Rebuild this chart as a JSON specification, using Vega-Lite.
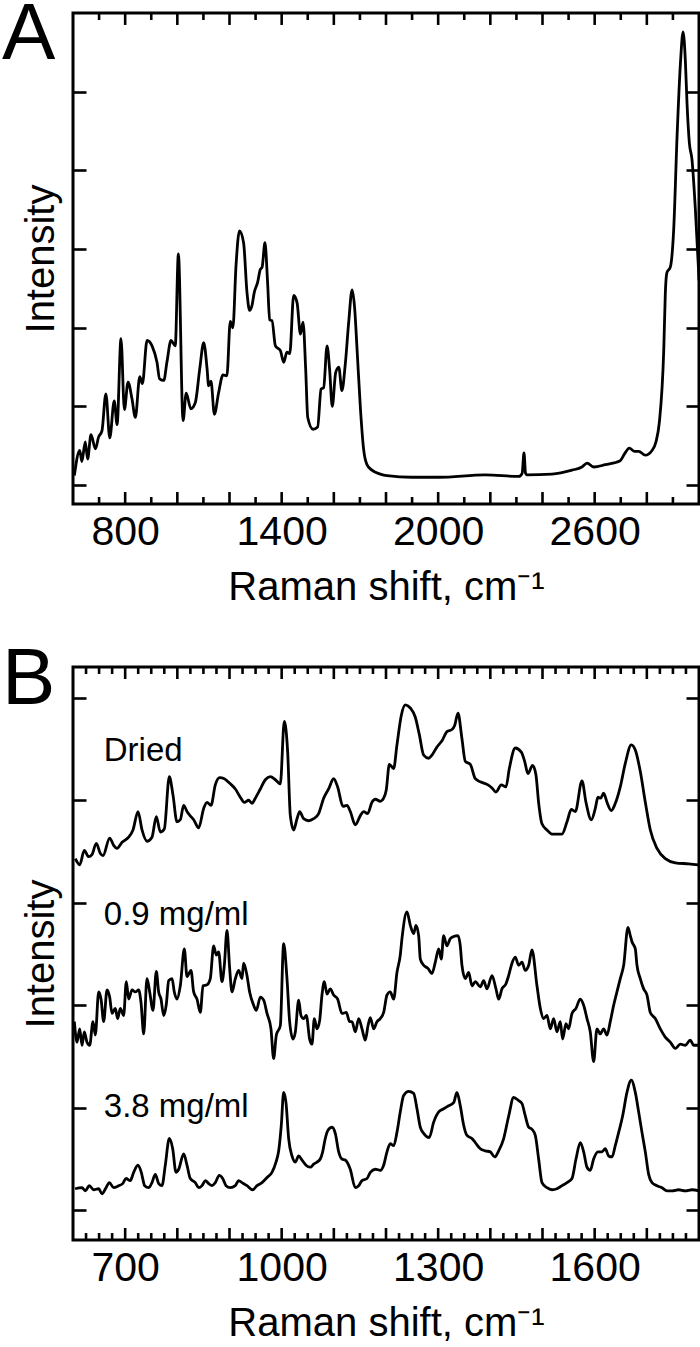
{
  "$schema": "https://vega.github.io/schema/vega-lite/v6.json",
  "padding": {"left": 0, "top": -7, "right": 0, "bottom": 0},
  "config": {
    "view": {"stroke": "black", "strokeWidth": 3},
    "font": "Liberation Sans",
    "axis": {
      "domain": false, "grid": false,
      "tickColor": "black", "tickWidth": 2.6,
      "labelFont": "Liberation Sans", "labelFontSize": 41, "labelColor": "black",
      "titleFont": "Liberation Sans", "titleFontSize": 40, "titleFontWeight": "normal", "titleColor": "black",
      "labelOverlap": false, "labelBound": false, "labelFlush": false
    },
    "title": {"font": "Liberation Sans", "fontSize": 80, "fontWeight": "normal", "anchor": "start", "frame": "group", "color": "black", "baseline": "alphabetic"}
  },
  "datasets": {
    "full": [
      {"shift":605,"intensity":0.12},{"shift":626,"intensity":0.44},{"shift":634,"intensity":0.30},{"shift":647,"intensity":0.55},{"shift":656,"intensity":0.33},{"shift":669,"intensity":0.64},{"shift":686,"intensity":0.46},{"shift":698,"intensity":0.61},{"shift":711,"intensity":0.69},{"shift":726,"intensity":1.16},{"shift":741,"intensity":0.60},{"shift":758,"intensity":1.07},{"shift":769,"intensity":0.77},{"shift":784,"intensity":1.86},{"shift":797,"intensity":0.96},{"shift":811,"intensity":1.31},{"shift":826,"intensity":1.10},{"shift":839,"intensity":0.86},{"shift":856,"intensity":1.38},{"shift":866,"intensity":1.29},{"shift":884,"intensity":1.84},{"shift":903,"intensity":1.77},{"shift":922,"intensity":1.56},{"shift":932,"intensity":1.35},{"shift":948,"intensity":1.33},{"shift":960,"intensity":1.56},{"shift":976,"intensity":1.84},{"shift":992,"intensity":1.77},{"shift":1004,"intensity":2.94},{"shift":1022,"intensity":0.82},{"shift":1034,"intensity":1.17},{"shift":1052,"intensity":0.97},{"shift":1069,"intensity":1.05},{"shift":1086,"intensity":1.48},{"shift":1101,"intensity":1.81},{"shift":1114,"intensity":1.48},{"shift":1120,"intensity":1.26},{"shift":1129,"intensity":1.32},{"shift":1142,"intensity":0.90},{"shift":1158,"intensity":1.17},{"shift":1175,"intensity":1.40},{"shift":1190,"intensity":1.39},{"shift":1203,"intensity":2.08},{"shift":1213,"intensity":2.00},{"shift":1225,"intensity":2.79},{"shift":1238,"intensity":3.23},{"shift":1254,"intensity":3.08},{"shift":1267,"intensity":2.45},{"shift":1277,"intensity":2.22},{"shift":1286,"intensity":2.28},{"shift":1295,"intensity":2.45},{"shift":1308,"intensity":2.58},{"shift":1318,"intensity":2.74},{"shift":1325,"intensity":2.77},{"shift":1336,"intensity":3.08},{"shift":1346,"intensity":2.58},{"shift":1354,"intensity":2.10},{"shift":1363,"intensity":2.09},{"shift":1376,"intensity":1.77},{"shift":1395,"intensity":1.71},{"shift":1408,"intensity":1.56},{"shift":1420,"intensity":1.69},{"shift":1431,"intensity":1.67},{"shift":1446,"intensity":2.41},{"shift":1459,"intensity":2.32},{"shift":1472,"intensity":1.92},{"shift":1482,"intensity":2.07},{"shift":1492,"intensity":1.48},{"shift":1500,"intensity":0.86},{"shift":1520,"intensity":0.71},{"shift":1538,"intensity":0.74},{"shift":1551,"intensity":1.22},{"shift":1561,"intensity":1.24},{"shift":1574,"intensity":1.77},{"shift":1584,"intensity":1.46},{"shift":1594,"intensity":1.00},{"shift":1607,"intensity":1.43},{"shift":1619,"intensity":1.50},{"shift":1631,"intensity":1.20},{"shift":1644,"intensity":1.54},{"shift":1657,"intensity":2.07},{"shift":1670,"intensity":2.48},{"shift":1680,"intensity":2.24},{"shift":1689,"intensity":1.73},{"shift":1702,"intensity":0.97},{"shift":1714,"intensity":0.46},{"shift":1727,"intensity":0.26},{"shift":1746,"intensity":0.19},{"shift":1778,"intensity":0.14},{"shift":1804,"intensity":0.12},{"shift":1900,"intensity":0.10},{"shift":2002,"intensity":0.10},{"shift":2181,"intensity":0.13},{"shift":2309,"intensity":0.11},{"shift":2322,"intensity":0.15},{"shift":2329,"intensity":0.41},{"shift":2335,"intensity":0.15},{"shift":2340,"intensity":0.13},{"shift":2436,"intensity":0.14},{"shift":2513,"intensity":0.19},{"shift":2551,"intensity":0.23},{"shift":2571,"intensity":0.28},{"shift":2596,"intensity":0.23},{"shift":2641,"intensity":0.26},{"shift":2698,"intensity":0.31},{"shift":2715,"intensity":0.40},{"shift":2733,"intensity":0.47},{"shift":2753,"intensity":0.43},{"shift":2769,"intensity":0.43},{"shift":2794,"intensity":0.38},{"shift":2820,"intensity":0.44},{"shift":2835,"intensity":0.55},{"shift":2848,"intensity":0.80},{"shift":2865,"intensity":1.73},{"shift":2871,"intensity":2.45},{"shift":2877,"intensity":2.70},{"shift":2890,"intensity":2.77},{"shift":2903,"intensity":3.25},{"shift":2916,"intensity":4.44},{"shift":2929,"intensity":5.37},{"shift":2939,"intensity":5.76},{"shift":2948,"intensity":5.37},{"shift":2954,"intensity":4.86},{"shift":2963,"intensity":4.35},{"shift":2973,"intensity":4.14},{"shift":2986,"intensity":3.51},{"shift":2998,"intensity":2.75},{"shift":3000,"intensity":2.60}
    ],
    "fingerprint": [
      {"sample":"Dried","shift":604.5,"intensity":3.43},{"sample":"Dried","shift":612.8,"intensity":3.37},{"sample":"Dried","shift":621.7,"intensity":3.51},{"sample":"Dried","shift":630,"intensity":3.45},{"sample":"Dried","shift":636.4,"intensity":3.47},{"sample":"Dried","shift":644.7,"intensity":3.58},{"sample":"Dried","shift":652.4,"intensity":3.48},{"sample":"Dried","shift":657.5,"intensity":3.46},{"sample":"Dried","shift":670.3,"intensity":3.63},{"sample":"Dried","shift":678,"intensity":3.56},{"sample":"Dried","shift":684.3,"intensity":3.53},{"sample":"Dried","shift":694,"intensity":3.59},{"sample":"Dried","shift":706.7,"intensity":3.64},{"sample":"Dried","shift":715,"intensity":3.71},{"sample":"Dried","shift":724.6,"intensity":3.89},{"sample":"Dried","shift":732.3,"intensity":3.71},{"sample":"Dried","shift":741.8,"intensity":3.60},{"sample":"Dried","shift":751.4,"intensity":3.64},{"sample":"Dried","shift":759.7,"intensity":3.84},{"sample":"Dried","shift":767.4,"intensity":3.69},{"sample":"Dried","shift":775,"intensity":3.72},{"sample":"Dried","shift":784.6,"intensity":4.23},{"sample":"Dried","shift":791.7,"intensity":4.05},{"sample":"Dried","shift":799.3,"intensity":3.79},{"sample":"Dried","shift":805.7,"intensity":3.81},{"sample":"Dried","shift":812.1,"intensity":3.95},{"sample":"Dried","shift":818.5,"intensity":3.89},{"sample":"Dried","shift":826.2,"intensity":3.84},{"sample":"Dried","shift":831.3,"intensity":3.81},{"sample":"Dried","shift":840.9,"intensity":3.73},{"sample":"Dried","shift":850.5,"intensity":3.92},{"sample":"Dried","shift":856.9,"intensity":3.98},{"sample":"Dried","shift":864.5,"intensity":3.95},{"sample":"Dried","shift":872.8,"intensity":4.15},{"sample":"Dried","shift":881.1,"intensity":4.22},{"sample":"Dried","shift":890.1,"intensity":4.21},{"sample":"Dried","shift":901.6,"intensity":4.16},{"sample":"Dried","shift":911.2,"intensity":4.11},{"sample":"Dried","shift":920.7,"intensity":4.03},{"sample":"Dried","shift":928.4,"intensity":3.98},{"sample":"Dried","shift":936.7,"intensity":4.00},{"sample":"Dried","shift":943.1,"intensity":3.97},{"sample":"Dried","shift":949.5,"intensity":4.02},{"sample":"Dried","shift":959.1,"intensity":4.11},{"sample":"Dried","shift":968.7,"intensity":4.20},{"sample":"Dried","shift":978.2,"intensity":4.23},{"sample":"Dried","shift":987.8,"intensity":4.20},{"sample":"Dried","shift":997.4,"intensity":4.16},{"sample":"Dried","shift":1005,"intensity":4.77},{"sample":"Dried","shift":1011.5,"intensity":4.47},{"sample":"Dried","shift":1016.6,"intensity":3.85},{"sample":"Dried","shift":1023,"intensity":3.71},{"sample":"Dried","shift":1029.4,"intensity":3.82},{"sample":"Dried","shift":1034.5,"intensity":3.89},{"sample":"Dried","shift":1042.1,"intensity":3.82},{"sample":"Dried","shift":1051.7,"intensity":3.80},{"sample":"Dried","shift":1061.3,"intensity":3.82},{"sample":"Dried","shift":1070.9,"intensity":3.87},{"sample":"Dried","shift":1080.5,"intensity":4.02},{"sample":"Dried","shift":1090,"intensity":4.11},{"sample":"Dried","shift":1099.6,"intensity":4.21},{"sample":"Dried","shift":1107.3,"intensity":4.13},{"sample":"Dried","shift":1117.5,"intensity":3.94},{"sample":"Dried","shift":1125.2,"intensity":3.95},{"sample":"Dried","shift":1131.6,"intensity":3.89},{"sample":"Dried","shift":1141.2,"intensity":3.76},{"sample":"Dried","shift":1150.8,"intensity":3.85},{"sample":"Dried","shift":1157.2,"intensity":3.89},{"sample":"Dried","shift":1164.8,"intensity":3.87},{"sample":"Dried","shift":1173.1,"intensity":3.98},{"sample":"Dried","shift":1179.5,"intensity":4.01},{"sample":"Dried","shift":1189.1,"intensity":3.99},{"sample":"Dried","shift":1195.5,"intensity":4.02},{"sample":"Dried","shift":1200.5,"intensity":4.10},{"sample":"Dried","shift":1206.4,"intensity":4.35},{"sample":"Dried","shift":1214.7,"intensity":4.31},{"sample":"Dried","shift":1221,"intensity":4.54},{"sample":"Dried","shift":1229.4,"intensity":4.83},{"sample":"Dried","shift":1237,"intensity":4.93},{"sample":"Dried","shift":1246.6,"intensity":4.90},{"sample":"Dried","shift":1256.2,"intensity":4.81},{"sample":"Dried","shift":1263.9,"intensity":4.64},{"sample":"Dried","shift":1272.2,"intensity":4.44},{"sample":"Dried","shift":1281.8,"intensity":4.41},{"sample":"Dried","shift":1288.1,"intensity":4.44},{"sample":"Dried","shift":1297.7,"intensity":4.52},{"sample":"Dried","shift":1307.3,"intensity":4.58},{"sample":"Dried","shift":1316.9,"intensity":4.67},{"sample":"Dried","shift":1326.5,"intensity":4.69},{"sample":"Dried","shift":1331.6,"intensity":4.73},{"sample":"Dried","shift":1338,"intensity":4.85},{"sample":"Dried","shift":1345.6,"intensity":4.60},{"sample":"Dried","shift":1352,"intensity":4.38},{"sample":"Dried","shift":1361.6,"intensity":4.35},{"sample":"Dried","shift":1371.2,"intensity":4.21},{"sample":"Dried","shift":1380.8,"intensity":4.18},{"sample":"Dried","shift":1395.5,"intensity":4.15},{"sample":"Dried","shift":1403.1,"intensity":4.12},{"sample":"Dried","shift":1410.8,"intensity":4.08},{"sample":"Dried","shift":1421,"intensity":4.15},{"sample":"Dried","shift":1430,"intensity":4.13},{"sample":"Dried","shift":1436.4,"intensity":4.31},{"sample":"Dried","shift":1447.9,"intensity":4.51},{"sample":"Dried","shift":1459.4,"intensity":4.47},{"sample":"Dried","shift":1465.8,"intensity":4.38},{"sample":"Dried","shift":1472.1,"intensity":4.26},{"sample":"Dried","shift":1481,"intensity":4.34},{"sample":"Dried","shift":1487.4,"intensity":4.25},{"sample":"Dried","shift":1492.5,"intensity":3.98},{"sample":"Dried","shift":1499,"intensity":3.77},{"sample":"Dried","shift":1508.6,"intensity":3.71},{"sample":"Dried","shift":1518.2,"intensity":3.67},{"sample":"Dried","shift":1537.3,"intensity":3.67},{"sample":"Dried","shift":1547,"intensity":3.79},{"sample":"Dried","shift":1555.2,"intensity":3.91},{"sample":"Dried","shift":1562.9,"intensity":3.89},{"sample":"Dried","shift":1575.7,"intensity":4.19},{"sample":"Dried","shift":1583.3,"intensity":3.98},{"sample":"Dried","shift":1593.5,"intensity":3.81},{"sample":"Dried","shift":1601.2,"intensity":3.92},{"sample":"Dried","shift":1606.3,"intensity":4.03},{"sample":"Dried","shift":1611.4,"intensity":4.02},{"sample":"Dried","shift":1617.2,"intensity":4.07},{"sample":"Dried","shift":1623.6,"intensity":3.98},{"sample":"Dried","shift":1631.9,"intensity":3.90},{"sample":"Dried","shift":1639.6,"intensity":3.97},{"sample":"Dried","shift":1649.1,"intensity":4.13},{"sample":"Dried","shift":1658.7,"intensity":4.36},{"sample":"Dried","shift":1670.2,"intensity":4.54},{"sample":"Dried","shift":1677.9,"intensity":4.49},{"sample":"Dried","shift":1687.5,"intensity":4.28},{"sample":"Dried","shift":1697.1,"intensity":3.98},{"sample":"Dried","shift":1706.7,"intensity":3.71},{"sample":"Dried","shift":1719.5,"intensity":3.53},{"sample":"Dried","shift":1735.4,"intensity":3.43},{"sample":"Dried","shift":1754.6,"intensity":3.39},{"sample":"Dried","shift":1780.2,"intensity":3.38},{"sample":"Dried","shift":1800,"intensity":3.37},
      {"sample":"0.9 mg/ml","shift":602.6,"intensity":1.84},{"sample":"0.9 mg/ml","shift":607.7,"intensity":1.64},{"sample":"0.9 mg/ml","shift":612.8,"intensity":1.77},{"sample":"0.9 mg/ml","shift":617.3,"intensity":1.61},{"sample":"0.9 mg/ml","shift":621.7,"intensity":1.74},{"sample":"0.9 mg/ml","shift":626.8,"intensity":1.64},{"sample":"0.9 mg/ml","shift":632,"intensity":1.61},{"sample":"0.9 mg/ml","shift":638.3,"intensity":1.84},{"sample":"0.9 mg/ml","shift":642.8,"intensity":1.71},{"sample":"0.9 mg/ml","shift":649.2,"intensity":2.13},{"sample":"0.9 mg/ml","shift":653.7,"intensity":2.06},{"sample":"0.9 mg/ml","shift":658.8,"intensity":1.84},{"sample":"0.9 mg/ml","shift":665.2,"intensity":2.15},{"sample":"0.9 mg/ml","shift":670.3,"intensity":2.08},{"sample":"0.9 mg/ml","shift":674.8,"intensity":1.92},{"sample":"0.9 mg/ml","shift":681.1,"intensity":1.97},{"sample":"0.9 mg/ml","shift":685.6,"intensity":1.87},{"sample":"0.9 mg/ml","shift":690.7,"intensity":1.97},{"sample":"0.9 mg/ml","shift":697.1,"intensity":1.90},{"sample":"0.9 mg/ml","shift":702.2,"intensity":2.23},{"sample":"0.9 mg/ml","shift":706.7,"intensity":2.06},{"sample":"0.9 mg/ml","shift":713.1,"intensity":2.15},{"sample":"0.9 mg/ml","shift":719.5,"intensity":2.13},{"sample":"0.9 mg/ml","shift":725.9,"intensity":2.15},{"sample":"0.9 mg/ml","shift":730.3,"intensity":2.03},{"sample":"0.9 mg/ml","shift":735.5,"intensity":1.72},{"sample":"0.9 mg/ml","shift":741.8,"intensity":2.26},{"sample":"0.9 mg/ml","shift":747,"intensity":2.13},{"sample":"0.9 mg/ml","shift":753.3,"intensity":1.95},{"sample":"0.9 mg/ml","shift":759.7,"intensity":2.33},{"sample":"0.9 mg/ml","shift":764.2,"intensity":2.13},{"sample":"0.9 mg/ml","shift":768.7,"intensity":2.06},{"sample":"0.9 mg/ml","shift":773.8,"intensity":1.90},{"sample":"0.9 mg/ml","shift":778.9,"intensity":2.01},{"sample":"0.9 mg/ml","shift":783.4,"intensity":2.24},{"sample":"0.9 mg/ml","shift":789.8,"intensity":2.26},{"sample":"0.9 mg/ml","shift":794.2,"intensity":2.13},{"sample":"0.9 mg/ml","shift":799.3,"intensity":2.06},{"sample":"0.9 mg/ml","shift":805.7,"intensity":2.19},{"sample":"0.9 mg/ml","shift":813.4,"intensity":2.55},{"sample":"0.9 mg/ml","shift":818.5,"intensity":2.28},{"sample":"0.9 mg/ml","shift":826.2,"intensity":2.34},{"sample":"0.9 mg/ml","shift":831.3,"intensity":2.13},{"sample":"0.9 mg/ml","shift":837.7,"intensity":2.06},{"sample":"0.9 mg/ml","shift":844.1,"intensity":1.93},{"sample":"0.9 mg/ml","shift":849.2,"intensity":2.19},{"sample":"0.9 mg/ml","shift":856.9,"intensity":2.20},{"sample":"0.9 mg/ml","shift":863.2,"intensity":2.26},{"sample":"0.9 mg/ml","shift":869.6,"intensity":2.58},{"sample":"0.9 mg/ml","shift":874.7,"intensity":2.49},{"sample":"0.9 mg/ml","shift":879.2,"intensity":2.52},{"sample":"0.9 mg/ml","shift":885.6,"intensity":2.23},{"sample":"0.9 mg/ml","shift":890.1,"intensity":2.39},{"sample":"0.9 mg/ml","shift":895.2,"intensity":2.73},{"sample":"0.9 mg/ml","shift":900.3,"intensity":2.36},{"sample":"0.9 mg/ml","shift":904.8,"intensity":2.13},{"sample":"0.9 mg/ml","shift":911.2,"intensity":2.26},{"sample":"0.9 mg/ml","shift":917.6,"intensity":2.34},{"sample":"0.9 mg/ml","shift":923.9,"intensity":2.26},{"sample":"0.9 mg/ml","shift":927.1,"intensity":2.41},{"sample":"0.9 mg/ml","shift":933.5,"intensity":2.29},{"sample":"0.9 mg/ml","shift":938.6,"intensity":2.13},{"sample":"0.9 mg/ml","shift":946.3,"intensity":2.00},{"sample":"0.9 mg/ml","shift":951.4,"intensity":1.95},{"sample":"0.9 mg/ml","shift":959.1,"intensity":2.08},{"sample":"0.9 mg/ml","shift":965.5,"intensity":2.05},{"sample":"0.9 mg/ml","shift":971.9,"intensity":1.92},{"sample":"0.9 mg/ml","shift":979.5,"intensity":1.77},{"sample":"0.9 mg/ml","shift":984.6,"intensity":1.48},{"sample":"0.9 mg/ml","shift":989.8,"intensity":1.71},{"sample":"0.9 mg/ml","shift":997.4,"intensity":1.80},{"sample":"0.9 mg/ml","shift":1003.8,"intensity":2.60},{"sample":"0.9 mg/ml","shift":1010.2,"intensity":2.26},{"sample":"0.9 mg/ml","shift":1015.3,"intensity":1.84},{"sample":"0.9 mg/ml","shift":1021.7,"intensity":1.67},{"sample":"0.9 mg/ml","shift":1026.2,"intensity":1.74},{"sample":"0.9 mg/ml","shift":1032.6,"intensity":2.05},{"sample":"0.9 mg/ml","shift":1037,"intensity":1.90},{"sample":"0.9 mg/ml","shift":1042.1,"intensity":1.87},{"sample":"0.9 mg/ml","shift":1047.3,"intensity":1.90},{"sample":"0.9 mg/ml","shift":1053.6,"intensity":1.67},{"sample":"0.9 mg/ml","shift":1058.1,"intensity":1.62},{"sample":"0.9 mg/ml","shift":1062.6,"intensity":1.87},{"sample":"0.9 mg/ml","shift":1067.7,"intensity":1.77},{"sample":"0.9 mg/ml","shift":1072.8,"intensity":1.85},{"sample":"0.9 mg/ml","shift":1077.3,"intensity":2.10},{"sample":"0.9 mg/ml","shift":1081.7,"intensity":2.23},{"sample":"0.9 mg/ml","shift":1086.9,"intensity":2.11},{"sample":"0.9 mg/ml","shift":1093.3,"intensity":2.16},{"sample":"0.9 mg/ml","shift":1099.6,"intensity":2.10},{"sample":"0.9 mg/ml","shift":1107.3,"intensity":2.06},{"sample":"0.9 mg/ml","shift":1115.6,"intensity":1.92},{"sample":"0.9 mg/ml","shift":1123.9,"intensity":1.93},{"sample":"0.9 mg/ml","shift":1130.3,"intensity":1.84},{"sample":"0.9 mg/ml","shift":1134.8,"intensity":1.84},{"sample":"0.9 mg/ml","shift":1141.2,"intensity":1.74},{"sample":"0.9 mg/ml","shift":1147.6,"intensity":1.87},{"sample":"0.9 mg/ml","shift":1154,"intensity":1.77},{"sample":"0.9 mg/ml","shift":1160.3,"intensity":1.66},{"sample":"0.9 mg/ml","shift":1165.5,"intensity":1.80},{"sample":"0.9 mg/ml","shift":1169.9,"intensity":1.88},{"sample":"0.9 mg/ml","shift":1176.4,"intensity":1.77},{"sample":"0.9 mg/ml","shift":1182.7,"intensity":1.84},{"sample":"0.9 mg/ml","shift":1189,"intensity":1.87},{"sample":"0.9 mg/ml","shift":1195.5,"intensity":1.93},{"sample":"0.9 mg/ml","shift":1201.9,"intensity":2.10},{"sample":"0.9 mg/ml","shift":1208.2,"intensity":2.13},{"sample":"0.9 mg/ml","shift":1214.7,"intensity":2.06},{"sample":"0.9 mg/ml","shift":1221,"intensity":2.32},{"sample":"0.9 mg/ml","shift":1227.4,"intensity":2.49},{"sample":"0.9 mg/ml","shift":1230.6,"intensity":2.65},{"sample":"0.9 mg/ml","shift":1240.2,"intensity":2.91},{"sample":"0.9 mg/ml","shift":1246.6,"intensity":2.78},{"sample":"0.9 mg/ml","shift":1253,"intensity":2.70},{"sample":"0.9 mg/ml","shift":1257.5,"intensity":2.78},{"sample":"0.9 mg/ml","shift":1262.6,"intensity":2.68},{"sample":"0.9 mg/ml","shift":1265.8,"intensity":2.45},{"sample":"0.9 mg/ml","shift":1272.2,"intensity":2.39},{"sample":"0.9 mg/ml","shift":1280.5,"intensity":2.36},{"sample":"0.9 mg/ml","shift":1288.1,"intensity":2.31},{"sample":"0.9 mg/ml","shift":1294.5,"intensity":2.42},{"sample":"0.9 mg/ml","shift":1301,"intensity":2.55},{"sample":"0.9 mg/ml","shift":1306,"intensity":2.45},{"sample":"0.9 mg/ml","shift":1310.5,"intensity":2.68},{"sample":"0.9 mg/ml","shift":1316.7,"intensity":2.58},{"sample":"0.9 mg/ml","shift":1323.3,"intensity":2.65},{"sample":"0.9 mg/ml","shift":1329.7,"intensity":2.67},{"sample":"0.9 mg/ml","shift":1338,"intensity":2.68},{"sample":"0.9 mg/ml","shift":1342.4,"intensity":2.58},{"sample":"0.9 mg/ml","shift":1345.6,"intensity":2.39},{"sample":"0.9 mg/ml","shift":1352,"intensity":2.26},{"sample":"0.9 mg/ml","shift":1358.5,"intensity":2.32},{"sample":"0.9 mg/ml","shift":1364.8,"intensity":2.19},{"sample":"0.9 mg/ml","shift":1371.2,"intensity":2.23},{"sample":"0.9 mg/ml","shift":1380.8,"intensity":2.18},{"sample":"0.9 mg/ml","shift":1387.2,"intensity":2.24},{"sample":"0.9 mg/ml","shift":1393.6,"intensity":2.16},{"sample":"0.9 mg/ml","shift":1403.2,"intensity":2.29},{"sample":"0.9 mg/ml","shift":1410.8,"intensity":2.16},{"sample":"0.9 mg/ml","shift":1416,"intensity":2.06},{"sample":"0.9 mg/ml","shift":1422.3,"intensity":2.16},{"sample":"0.9 mg/ml","shift":1430,"intensity":2.21},{"sample":"0.9 mg/ml","shift":1435.1,"intensity":2.29},{"sample":"0.9 mg/ml","shift":1441.5,"intensity":2.41},{"sample":"0.9 mg/ml","shift":1447.8,"intensity":2.47},{"sample":"0.9 mg/ml","shift":1454.3,"intensity":2.39},{"sample":"0.9 mg/ml","shift":1460.7,"intensity":2.42},{"sample":"0.9 mg/ml","shift":1467,"intensity":2.34},{"sample":"0.9 mg/ml","shift":1473.5,"intensity":2.39},{"sample":"0.9 mg/ml","shift":1479.8,"intensity":2.54},{"sample":"0.9 mg/ml","shift":1489.4,"intensity":2.19},{"sample":"0.9 mg/ml","shift":1495.8,"intensity":1.97},{"sample":"0.9 mg/ml","shift":1502.2,"intensity":1.87},{"sample":"0.9 mg/ml","shift":1508.6,"intensity":1.90},{"sample":"0.9 mg/ml","shift":1515,"intensity":1.77},{"sample":"0.9 mg/ml","shift":1521.4,"intensity":1.87},{"sample":"0.9 mg/ml","shift":1527.7,"intensity":1.74},{"sample":"0.9 mg/ml","shift":1534.1,"intensity":1.84},{"sample":"0.9 mg/ml","shift":1538.6,"intensity":1.67},{"sample":"0.9 mg/ml","shift":1545,"intensity":1.82},{"sample":"0.9 mg/ml","shift":1550.1,"intensity":1.77},{"sample":"0.9 mg/ml","shift":1556.5,"intensity":1.92},{"sample":"0.9 mg/ml","shift":1564.2,"intensity":1.97},{"sample":"0.9 mg/ml","shift":1572.4,"intensity":2.06},{"sample":"0.9 mg/ml","shift":1578.9,"intensity":2.00},{"sample":"0.9 mg/ml","shift":1585.3,"intensity":1.87},{"sample":"0.9 mg/ml","shift":1591.6,"intensity":1.74},{"sample":"0.9 mg/ml","shift":1598,"intensity":1.45},{"sample":"0.9 mg/ml","shift":1604.4,"intensity":1.77},{"sample":"0.9 mg/ml","shift":1610.7,"intensity":1.72},{"sample":"0.9 mg/ml","shift":1617.2,"intensity":1.77},{"sample":"0.9 mg/ml","shift":1623.6,"intensity":1.71},{"sample":"0.9 mg/ml","shift":1629.9,"intensity":1.84},{"sample":"0.9 mg/ml","shift":1636.4,"intensity":2.00},{"sample":"0.9 mg/ml","shift":1642.7,"intensity":2.13},{"sample":"0.9 mg/ml","shift":1649.1,"intensity":2.26},{"sample":"0.9 mg/ml","shift":1655.6,"intensity":2.39},{"sample":"0.9 mg/ml","shift":1663.8,"intensity":2.76},{"sample":"0.9 mg/ml","shift":1668.3,"intensity":2.68},{"sample":"0.9 mg/ml","shift":1671.5,"intensity":2.62},{"sample":"0.9 mg/ml","shift":1677.9,"intensity":2.55},{"sample":"0.9 mg/ml","shift":1681.1,"intensity":2.39},{"sample":"0.9 mg/ml","shift":1687.4,"intensity":2.26},{"sample":"0.9 mg/ml","shift":1693.9,"intensity":2.16},{"sample":"0.9 mg/ml","shift":1700.3,"intensity":2.10},{"sample":"0.9 mg/ml","shift":1706.6,"intensity":1.93},{"sample":"0.9 mg/ml","shift":1716.2,"intensity":1.87},{"sample":"0.9 mg/ml","shift":1725.8,"intensity":1.77},{"sample":"0.9 mg/ml","shift":1735.3,"intensity":1.69},{"sample":"0.9 mg/ml","shift":1744.9,"intensity":1.64},{"sample":"0.9 mg/ml","shift":1754.5,"intensity":1.58},{"sample":"0.9 mg/ml","shift":1764.1,"intensity":1.62},{"sample":"0.9 mg/ml","shift":1773.7,"intensity":1.61},{"sample":"0.9 mg/ml","shift":1783.2,"intensity":1.66},{"sample":"0.9 mg/ml","shift":1789.7,"intensity":1.61},{"sample":"0.9 mg/ml","shift":1800,"intensity":1.61},
      {"sample":"3.8 mg/ml","shift":604,"intensity":0.21},{"sample":"3.8 mg/ml","shift":617.3,"intensity":0.22},{"sample":"3.8 mg/ml","shift":623.6,"intensity":0.19},{"sample":"3.8 mg/ml","shift":631.3,"intensity":0.24},{"sample":"3.8 mg/ml","shift":639.6,"intensity":0.20},{"sample":"3.8 mg/ml","shift":649.2,"intensity":0.21},{"sample":"3.8 mg/ml","shift":655.6,"intensity":0.16},{"sample":"3.8 mg/ml","shift":663.3,"intensity":0.22},{"sample":"3.8 mg/ml","shift":669.6,"intensity":0.27},{"sample":"3.8 mg/ml","shift":678,"intensity":0.22},{"sample":"3.8 mg/ml","shift":687.6,"intensity":0.24},{"sample":"3.8 mg/ml","shift":695.3,"intensity":0.26},{"sample":"3.8 mg/ml","shift":701.6,"intensity":0.31},{"sample":"3.8 mg/ml","shift":709.8,"intensity":0.29},{"sample":"3.8 mg/ml","shift":716.3,"intensity":0.37},{"sample":"3.8 mg/ml","shift":724.6,"intensity":0.44},{"sample":"3.8 mg/ml","shift":730.9,"intensity":0.37},{"sample":"3.8 mg/ml","shift":737.4,"intensity":0.24},{"sample":"3.8 mg/ml","shift":745.1,"intensity":0.22},{"sample":"3.8 mg/ml","shift":751.4,"intensity":0.27},{"sample":"3.8 mg/ml","shift":757.8,"intensity":0.35},{"sample":"3.8 mg/ml","shift":764.3,"intensity":0.26},{"sample":"3.8 mg/ml","shift":770.6,"intensity":0.24},{"sample":"3.8 mg/ml","shift":776.9,"intensity":0.44},{"sample":"3.8 mg/ml","shift":784.6,"intensity":0.70},{"sample":"3.8 mg/ml","shift":791.1,"intensity":0.60},{"sample":"3.8 mg/ml","shift":797.4,"intensity":0.37},{"sample":"3.8 mg/ml","shift":802.6,"intensity":0.40},{"sample":"3.8 mg/ml","shift":812.2,"intensity":0.55},{"sample":"3.8 mg/ml","shift":818.5,"intensity":0.44},{"sample":"3.8 mg/ml","shift":824.8,"intensity":0.31},{"sample":"3.8 mg/ml","shift":834.4,"intensity":0.27},{"sample":"3.8 mg/ml","shift":841,"intensity":0.22},{"sample":"3.8 mg/ml","shift":847.3,"intensity":0.24},{"sample":"3.8 mg/ml","shift":853.6,"intensity":0.29},{"sample":"3.8 mg/ml","shift":860.1,"intensity":0.26},{"sample":"3.8 mg/ml","shift":866.4,"intensity":0.24},{"sample":"3.8 mg/ml","shift":872.8,"intensity":0.27},{"sample":"3.8 mg/ml","shift":880.4,"intensity":0.34},{"sample":"3.8 mg/ml","shift":886.9,"intensity":0.31},{"sample":"3.8 mg/ml","shift":893.3,"intensity":0.24},{"sample":"3.8 mg/ml","shift":901.5,"intensity":0.22},{"sample":"3.8 mg/ml","shift":911.1,"intensity":0.24},{"sample":"3.8 mg/ml","shift":917.6,"intensity":0.29},{"sample":"3.8 mg/ml","shift":923.9,"intensity":0.27},{"sample":"3.8 mg/ml","shift":933.5,"intensity":0.24},{"sample":"3.8 mg/ml","shift":944.4,"intensity":0.20},{"sample":"3.8 mg/ml","shift":952.7,"intensity":0.24},{"sample":"3.8 mg/ml","shift":962.3,"intensity":0.27},{"sample":"3.8 mg/ml","shift":971.9,"intensity":0.32},{"sample":"3.8 mg/ml","shift":981.4,"intensity":0.37},{"sample":"3.8 mg/ml","shift":989.1,"intensity":0.47},{"sample":"3.8 mg/ml","shift":994.3,"intensity":0.58},{"sample":"3.8 mg/ml","shift":999.3,"intensity":0.83},{"sample":"3.8 mg/ml","shift":1003.8,"intensity":1.15},{"sample":"3.8 mg/ml","shift":1008.3,"intensity":1.05},{"sample":"3.8 mg/ml","shift":1013.4,"intensity":0.70},{"sample":"3.8 mg/ml","shift":1019.8,"intensity":0.53},{"sample":"3.8 mg/ml","shift":1026.1,"intensity":0.47},{"sample":"3.8 mg/ml","shift":1032.6,"intensity":0.53},{"sample":"3.8 mg/ml","shift":1039,"intensity":0.49},{"sample":"3.8 mg/ml","shift":1046.6,"intensity":0.44},{"sample":"3.8 mg/ml","shift":1054.9,"intensity":0.42},{"sample":"3.8 mg/ml","shift":1061.4,"intensity":0.45},{"sample":"3.8 mg/ml","shift":1067.7,"intensity":0.47},{"sample":"3.8 mg/ml","shift":1074,"intensity":0.50},{"sample":"3.8 mg/ml","shift":1078.6,"intensity":0.57},{"sample":"3.8 mg/ml","shift":1083.6,"intensity":0.70},{"sample":"3.8 mg/ml","shift":1088.8,"intensity":0.78},{"sample":"3.8 mg/ml","shift":1096.5,"intensity":0.81},{"sample":"3.8 mg/ml","shift":1102.8,"intensity":0.75},{"sample":"3.8 mg/ml","shift":1109.3,"intensity":0.57},{"sample":"3.8 mg/ml","shift":1115.6,"intensity":0.50},{"sample":"3.8 mg/ml","shift":1122,"intensity":0.49},{"sample":"3.8 mg/ml","shift":1131.5,"intensity":0.40},{"sample":"3.8 mg/ml","shift":1141.2,"intensity":0.22},{"sample":"3.8 mg/ml","shift":1147.6,"intensity":0.24},{"sample":"3.8 mg/ml","shift":1154,"intensity":0.29},{"sample":"3.8 mg/ml","shift":1163.6,"intensity":0.31},{"sample":"3.8 mg/ml","shift":1169.9,"intensity":0.37},{"sample":"3.8 mg/ml","shift":1179.5,"intensity":0.40},{"sample":"3.8 mg/ml","shift":1189.1,"intensity":0.39},{"sample":"3.8 mg/ml","shift":1195.5,"intensity":0.44},{"sample":"3.8 mg/ml","shift":1201.9,"intensity":0.57},{"sample":"3.8 mg/ml","shift":1208.2,"intensity":0.65},{"sample":"3.8 mg/ml","shift":1214.7,"intensity":0.63},{"sample":"3.8 mg/ml","shift":1221,"intensity":0.76},{"sample":"3.8 mg/ml","shift":1227.4,"intensity":0.96},{"sample":"3.8 mg/ml","shift":1233.8,"intensity":1.12},{"sample":"3.8 mg/ml","shift":1243.4,"intensity":1.16},{"sample":"3.8 mg/ml","shift":1253,"intensity":1.14},{"sample":"3.8 mg/ml","shift":1259.4,"intensity":0.99},{"sample":"3.8 mg/ml","shift":1265.7,"intensity":0.81},{"sample":"3.8 mg/ml","shift":1272.2,"intensity":0.75},{"sample":"3.8 mg/ml","shift":1283,"intensity":0.71},{"sample":"3.8 mg/ml","shift":1291.4,"intensity":0.86},{"sample":"3.8 mg/ml","shift":1301,"intensity":0.96},{"sample":"3.8 mg/ml","shift":1310.5,"intensity":0.99},{"sample":"3.8 mg/ml","shift":1320.1,"intensity":1.02},{"sample":"3.8 mg/ml","shift":1329.7,"intensity":1.05},{"sample":"3.8 mg/ml","shift":1336,"intensity":1.15},{"sample":"3.8 mg/ml","shift":1342.4,"intensity":1.02},{"sample":"3.8 mg/ml","shift":1348.9,"intensity":0.83},{"sample":"3.8 mg/ml","shift":1355.2,"intensity":0.73},{"sample":"3.8 mg/ml","shift":1364.8,"intensity":0.70},{"sample":"3.8 mg/ml","shift":1371.2,"intensity":0.66},{"sample":"3.8 mg/ml","shift":1380.8,"intensity":0.60},{"sample":"3.8 mg/ml","shift":1390.3,"intensity":0.58},{"sample":"3.8 mg/ml","shift":1399.9,"intensity":0.57},{"sample":"3.8 mg/ml","shift":1408.3,"intensity":0.52},{"sample":"3.8 mg/ml","shift":1416,"intensity":0.58},{"sample":"3.8 mg/ml","shift":1425.6,"intensity":0.70},{"sample":"3.8 mg/ml","shift":1435.2,"intensity":0.92},{"sample":"3.8 mg/ml","shift":1444.7,"intensity":1.10},{"sample":"3.8 mg/ml","shift":1454.3,"intensity":1.07},{"sample":"3.8 mg/ml","shift":1460.7,"intensity":1.04},{"sample":"3.8 mg/ml","shift":1467,"intensity":0.92},{"sample":"3.8 mg/ml","shift":1473.5,"intensity":0.81},{"sample":"3.8 mg/ml","shift":1479.8,"intensity":0.79},{"sample":"3.8 mg/ml","shift":1486.2,"intensity":0.73},{"sample":"3.8 mg/ml","shift":1492.6,"intensity":0.50},{"sample":"3.8 mg/ml","shift":1499,"intensity":0.27},{"sample":"3.8 mg/ml","shift":1508.6,"intensity":0.22},{"sample":"3.8 mg/ml","shift":1518.2,"intensity":0.20},{"sample":"3.8 mg/ml","shift":1527.7,"intensity":0.21},{"sample":"3.8 mg/ml","shift":1537.3,"intensity":0.24},{"sample":"3.8 mg/ml","shift":1546.9,"intensity":0.27},{"sample":"3.8 mg/ml","shift":1556.5,"intensity":0.31},{"sample":"3.8 mg/ml","shift":1564.2,"intensity":0.50},{"sample":"3.8 mg/ml","shift":1572.4,"intensity":0.66},{"sample":"3.8 mg/ml","shift":1578.9,"intensity":0.57},{"sample":"3.8 mg/ml","shift":1585.3,"intensity":0.42},{"sample":"3.8 mg/ml","shift":1591.6,"intensity":0.39},{"sample":"3.8 mg/ml","shift":1598,"intensity":0.50},{"sample":"3.8 mg/ml","shift":1606.3,"intensity":0.57},{"sample":"3.8 mg/ml","shift":1614,"intensity":0.57},{"sample":"3.8 mg/ml","shift":1620.3,"intensity":0.60},{"sample":"3.8 mg/ml","shift":1626.8,"intensity":0.53},{"sample":"3.8 mg/ml","shift":1633.2,"intensity":0.52},{"sample":"3.8 mg/ml","shift":1639.5,"intensity":0.63},{"sample":"3.8 mg/ml","shift":1646,"intensity":0.76},{"sample":"3.8 mg/ml","shift":1653.6,"intensity":0.92},{"sample":"3.8 mg/ml","shift":1661.9,"intensity":1.15},{"sample":"3.8 mg/ml","shift":1670.2,"intensity":1.27},{"sample":"3.8 mg/ml","shift":1677.9,"intensity":1.15},{"sample":"3.8 mg/ml","shift":1684.3,"intensity":0.96},{"sample":"3.8 mg/ml","shift":1690.7,"intensity":0.76},{"sample":"3.8 mg/ml","shift":1697.1,"intensity":0.57},{"sample":"3.8 mg/ml","shift":1703.5,"intensity":0.35},{"sample":"3.8 mg/ml","shift":1709.9,"intensity":0.27},{"sample":"3.8 mg/ml","shift":1719.4,"intensity":0.24},{"sample":"3.8 mg/ml","shift":1729,"intensity":0.22},{"sample":"3.8 mg/ml","shift":1738.6,"intensity":0.19},{"sample":"3.8 mg/ml","shift":1748.2,"intensity":0.19},{"sample":"3.8 mg/ml","shift":1761,"intensity":0.20},{"sample":"3.8 mg/ml","shift":1773.7,"intensity":0.19},{"sample":"3.8 mg/ml","shift":1786.6,"intensity":0.20},{"sample":"3.8 mg/ml","shift":1800,"intensity":0.19}
    ],
    "sampleLabels": [
      {"shift": 659, "intensity": 4.385, "label": "Dried"},
      {"shift": 659, "intensity": 2.786, "label": "0.9 mg/ml"},
      {"shift": 659, "intensity": 0.908, "label": "3.8 mg/ml"}
    ],
    "majorTicksA": [{"shift":800},{"shift":1000},{"shift":1200},{"shift":1400},{"shift":1600},{"shift":1800},{"shift":2000},{"shift":2200},{"shift":2400},{"shift":2600},{"shift":2800}],
    "minorTicksA": [{"shift":700},{"shift":900},{"shift":1100},{"shift":1300},{"shift":1500},{"shift":1700},{"shift":1900},{"shift":2100},{"shift":2300},{"shift":2500},{"shift":2700},{"shift":2900}],
    "majorTicksB": [{"shift":700},{"shift":800},{"shift":900},{"shift":1000},{"shift":1100},{"shift":1200},{"shift":1300},{"shift":1400},{"shift":1500},{"shift":1600},{"shift":1700}],
    "minorTicksB": [{"shift":625},{"shift":650},{"shift":675},{"shift":725},{"shift":750},{"shift":775},{"shift":825},{"shift":850},{"shift":875},{"shift":925},{"shift":950},{"shift":975},{"shift":1025},{"shift":1050},{"shift":1075},{"shift":1125},{"shift":1150},{"shift":1175},{"shift":1225},{"shift":1250},{"shift":1275},{"shift":1325},{"shift":1350},{"shift":1375},{"shift":1425},{"shift":1450},{"shift":1475},{"shift":1525},{"shift":1550},{"shift":1575},{"shift":1625},{"shift":1650},{"shift":1675},{"shift":1725},{"shift":1750},{"shift":1775}]
  },
  "spacing": 29,
  "vconcat": [
    {
      "width": 626, "height": 491,
      "title": {"text": "A", "dx": -71, "offset": -64},
      "layer": [
        {
          "data": {"name": "full"},
          "mark": {"type": "line", "color": "black", "strokeWidth": 2.8, "interpolate": "monotone", "clip": true},
          "encoding": {
            "x": {"field": "shift", "type": "quantitative", "scale": {"domain": [600, 3000], "nice": false, "zero": false},
              "axis": {"orient": "bottom", "values": [800,1400,2000,2600], "ticks": false, "tickSize": 0,
                "format": "d", "labelPadding": 8, "title": "Raman shift, cm⁻¹", "titlePadding": 15}},
            "y": {"field": "intensity", "type": "quantitative", "scale": {"domain": [-0.24, 6.0], "nice": false, "zero": false},
              "axis": {"orient": "left", "values": [0,1,2,3,4,5], "tickSize": -13, "labels": false, "title": "Intensity", "titlePadding": 18, "titleBaseline": "alphabetic"}}
          }
        },
        {
          "data": {"name": "full"},
          "mark": {"type": "line", "opacity": 0},
          "encoding": {
            "x": {"field": "shift", "type": "quantitative", "axis": null},
            "y": {"field": "intensity", "type": "quantitative",
              "axis": {"orient": "right", "values": [0,1,2,3,4,5], "tickSize": -13, "labels": false, "title": null}}
          }
        },
        {
          "data": {"name": "majorTicksA"},
          "mark": {"type": "rule", "color": "black", "strokeWidth": 2.6},
          "encoding": {"x": {"field": "shift", "type": "quantitative", "axis": null}, "y": {"datum": -0.24, "type": "quantitative", "axis": null}, "y2": {"datum": -0.088}}
        },
        {
          "data": {"name": "majorTicksA"},
          "mark": {"type": "rule", "color": "black", "strokeWidth": 2.6},
          "encoding": {"x": {"field": "shift", "type": "quantitative", "axis": null}, "y": {"datum": 6.0, "type": "quantitative", "axis": null}, "y2": {"datum": 5.848}}
        },
        {
          "data": {"name": "minorTicksA"},
          "mark": {"type": "rule", "color": "black", "strokeWidth": 2.6},
          "encoding": {"x": {"field": "shift", "type": "quantitative", "axis": null}, "y": {"datum": -0.24, "type": "quantitative", "axis": null}, "y2": {"datum": -0.151}}
        },
        {
          "data": {"name": "minorTicksA"},
          "mark": {"type": "rule", "color": "black", "strokeWidth": 2.6},
          "encoding": {"x": {"field": "shift", "type": "quantitative", "axis": null}, "y": {"datum": 6.0, "type": "quantitative", "axis": null}, "y2": {"datum": 5.911}}
        }
      ],
      "resolve": {"axis": {"x": "independent", "y": "independent"}}
    },
    {
      "width": 626, "height": 573,
      "title": {"text": "B", "dx": -71, "offset": -55},
      "layer": [
        {
          "data": {"name": "fingerprint"},
          "mark": {"type": "line", "color": "black", "strokeWidth": 2.8, "interpolate": "monotone", "clip": true},
          "encoding": {
            "detail": {"field": "sample"},
            "x": {"field": "shift", "type": "quantitative", "scale": {"domain": [600, 1800], "nice": false, "zero": false},
              "axis": {"orient": "bottom", "values": [700,1000,1300,1600], "ticks": false, "tickSize": 0,
                "format": "d", "labelPadding": 8, "title": "Raman shift, cm⁻¹", "titlePadding": 15}},
            "y": {"field": "intensity", "type": "quantitative", "scale": {"domain": [-0.29, 5.3], "nice": false, "zero": false},
              "axis": {"orient": "left", "values": [0,1,2,3,4,5], "tickSize": -13, "labels": false, "title": "Intensity", "titlePadding": 18, "titleBaseline": "alphabetic"}}
          }
        },
        {
          "data": {"name": "fingerprint"},
          "mark": {"type": "line", "opacity": 0},
          "encoding": {
            "detail": {"field": "sample"},
            "x": {"field": "shift", "type": "quantitative", "axis": null},
            "y": {"field": "intensity", "type": "quantitative",
              "axis": {"orient": "right", "values": [0,1,2,3,4,5], "tickSize": -13, "labels": false, "title": null}}
          }
        },
        {
          "data": {"name": "majorTicksB"},
          "mark": {"type": "rule", "color": "black", "strokeWidth": 2.6},
          "encoding": {"x": {"field": "shift", "type": "quantitative", "axis": null}, "y": {"datum": -0.29, "type": "quantitative", "axis": null}, "y2": {"datum": -0.173}}
        },
        {
          "data": {"name": "majorTicksB"},
          "mark": {"type": "rule", "color": "black", "strokeWidth": 2.6},
          "encoding": {"x": {"field": "shift", "type": "quantitative", "axis": null}, "y": {"datum": 5.3, "type": "quantitative", "axis": null}, "y2": {"datum": 5.183}}
        },
        {
          "data": {"name": "minorTicksB"},
          "mark": {"type": "rule", "color": "black", "strokeWidth": 2.6},
          "encoding": {"x": {"field": "shift", "type": "quantitative", "axis": null}, "y": {"datum": -0.29, "type": "quantitative", "axis": null}, "y2": {"datum": -0.222}}
        },
        {
          "data": {"name": "minorTicksB"},
          "mark": {"type": "rule", "color": "black", "strokeWidth": 2.6},
          "encoding": {"x": {"field": "shift", "type": "quantitative", "axis": null}, "y": {"datum": 5.3, "type": "quantitative", "axis": null}, "y2": {"datum": 5.232}}
        },
        {
          "data": {"name": "sampleLabels"},
          "mark": {"type": "text", "align": "left", "baseline": "alphabetic", "fontSize": 33, "font": "Liberation Sans", "color": "black"},
          "encoding": {
            "x": {"field": "shift", "type": "quantitative", "axis": null},
            "y": {"field": "intensity", "type": "quantitative", "axis": null},
            "text": {"field": "label"}
          }
        }
      ],
      "resolve": {"axis": {"x": "independent", "y": "independent"}}
    }
  ]
}
